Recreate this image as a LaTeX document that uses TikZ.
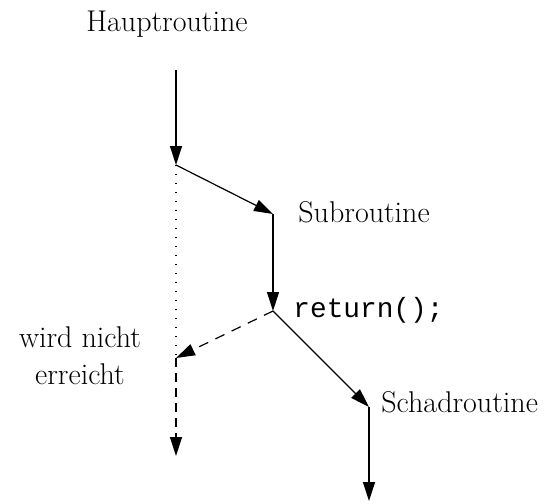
\documentclass[tikz,border=0pt]{standalone}
\usepackage{fontspec}
\newfontfamily\courfont{Liberation Mono}
\usetikzlibrary{arrows.meta}
\begin{document}
\begin{tikzpicture}[x=0.5pt,y=-0.5pt,
  flow/.style={line width=0.6pt,-{Triangle[length=9.5pt,width=6pt]}},
  lbl/.style={inner sep=0pt,font=\fontsize{15}{18.5}\selectfont},
  code/.style={inner sep=0pt,font=\courfont\fontsize{13.9}{16}\selectfont}]
\useasboundingbox (0,0) rectangle (553,504);
\coordinate (h0) at (176,70);
\coordinate (h1) at (176,165);
\coordinate (s0) at (273,214);
\coordinate (s1) at (273,311);
\coordinate (w0) at (176,358);
\coordinate (w1) at (176,456);
\coordinate (c0) at (369,407);
\coordinate (c1) at (369,501);
\node[lbl,anchor=base] (haupt) at (167,31) {Hauptroutine};
\node[lbl,anchor=base west] (sub) at (298,222) {Subroutine};
\node[code,anchor=base west] (ret) at (293,317) {return();};
\node[lbl,anchor=base west] (schad) at (381,412) {Schadroutine};
\node[lbl,align=center,anchor=base] (nicht) at (80,384) {wird nicht\\erreicht};
\draw[flow] (h0) -- (h1);
\draw[line width=0.7pt,dash pattern=on 0.7pt off 3.8pt] (h1) -- (w0);
\draw[flow] (h1) -- (s0);
\draw[flow] (s0) -- (s1);
\draw[flow,dash pattern=on 5pt off 4pt] (s1) -- (w0);
\draw[flow,dash pattern=on 4.5pt off 3pt] (w0) -- (w1);
\draw[flow] (s1) -- (c0);
\draw[flow] (c0) -- (c1);
\end{tikzpicture}
\end{document}
